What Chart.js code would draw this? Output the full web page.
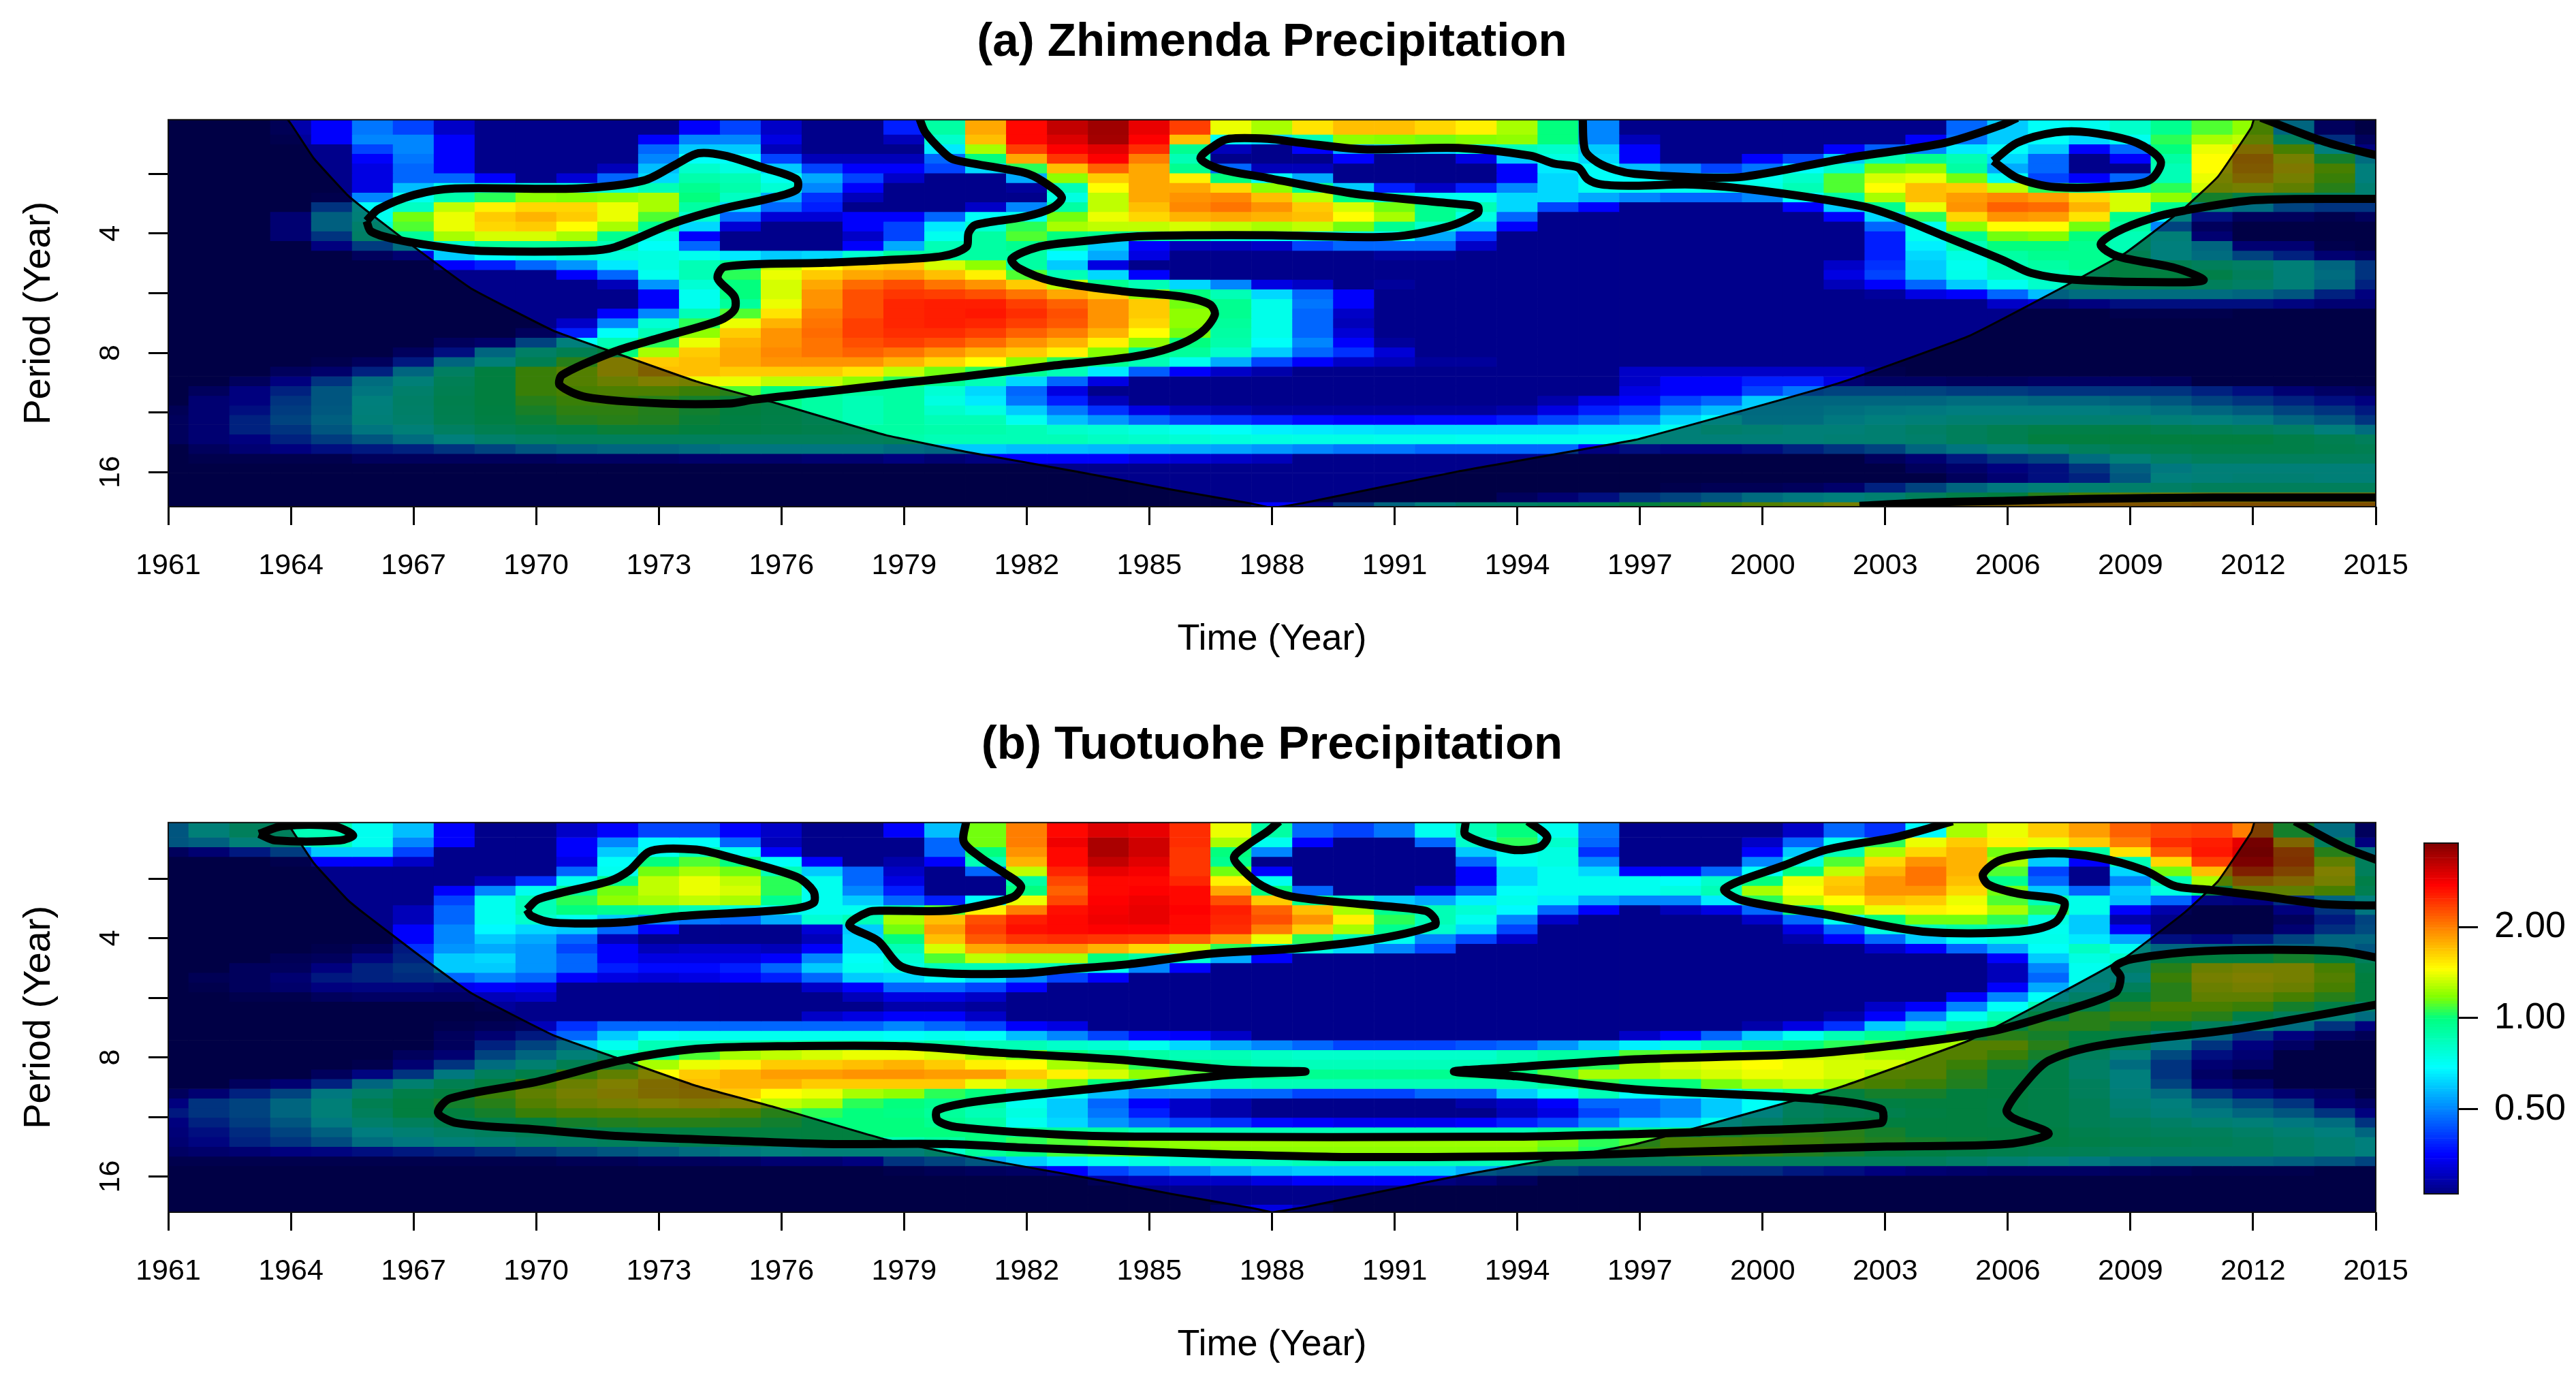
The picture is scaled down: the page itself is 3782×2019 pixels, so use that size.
<!DOCTYPE html>
<html>
<head>
<meta charset="utf-8">
<title>Wavelet power</title>
<script src="https://cdn.jsdelivr.net/npm/chart.js@4"></script>
<style>
body { margin: 0; background: #fff; overflow: hidden; }
canvas { position: absolute; }
</style>
</head>
<body>
<canvas id="panel-a" width="3735" height="983" style="left:0;top:0"></canvas>
<canvas id="panel-b" width="3735" height="987" style="left:0;top:1032px"></canvas>
<canvas id="color-key" width="282" height="600" style="left:3500px;top:1200px"></canvas>
<script>
const years = [1961,1962,1963,1964,1965,1966,1967,1968,1969,1970,1971,1972,1973,1974,1975,1976,1977,1978,1979,1980,1981,1982,1983,1984,1985,1986,1987,1988,1989,1990,1991,1992,1993,1994,1995,1996,1997,1998,1999,2000,2001,2002,2003,2004,2005,2006,2007,2008,2009,2010,2011,2012,2013,2014,2015];
const yearTicks = [1961,1964,1967,1970,1973,1976,1979,1982,1985,1988,1991,1994,1997,2000,2003,2006,2009,2012,2015];
// period axis is log2(period)
const periodTicks = [1.5, 2, 2.5, 3, 3.5, 4];
const periodLabels = ["", "4", "", "8", "", "16"];
const keyTicks = [0.5, 1, 2];

// wavelet power x100, one row per period (short to long), columns 1961..2015
const powerZhimenda = [
[27,27,27,29,35,48,42,31,27,27,27,27,27,35,42,31,27,27, 38,90,180,270,320,350,290,235,140,125,155,170,170,160,150,125,100,50, 27,27,27,27,27,27,27,27,46,60,70,72,80,95,110,120,60,30,27],
[27,27,27,28,35,50,50,35,27,27,27,27,35,50,50,33,27,27, 30,80,170,270,300,345,275,170,70,62,85,120,118,115,118,120,100,50, 30,27,27,27,27,27,27,35,48,60,70,62,72,105,125,130,85,45,30],
[27,27,27,27,27,42,50,35,27,27,27,27,46,60,60,30,27,27, 27,65,125,235,275,295,245,95,30,27,35,55,60,60,75,85,80,60, 35,27,27,27,27,35,45,50,65,70,60,35,46,100,140,160,120,70,35],
[27,27,27,27,27,35,48,35,27,27,27,27,50,70,70,42,30,30, 30,46,100,180,240,275,200,85,27,27,27,35,27,27,33,60,75,62, 35,27,27,35,42,60,85,95,85,62,46,27,35,90,145,180,140,105,62],
[27,27,27,27,27,33,46,35,27,27,27,30,58,80,75,60,42,35, 35,42,62,105,170,215,180,95,46,30,30,27,27,27,27,35,65,70, 58,50,42,48,70,80,115,120,90,55,46,27,27,85,145,175,150,120,70],
[27,27,27,27,27,33,46,46,35,27,32,46,62,88,85,72,55,42, 31,27,27,55,120,165,180,150,100,70,55,27,27,27,27,35,62,70, 70,70,72,72,80,110,135,140,115,72,42,35,46,85,140,165,140,115,70],
[27,27,27,27,27,33,58,72,75,75,75,78,85,95,88,78,50,35, 27,27,27,28,85,145,180,180,160,120,95,60,38,31,38,50,62,72, 72,72,74,74,85,110,145,170,165,130,105,90,90,105,135,140,130,110,75],
[27,27,27,27,28,50,72,88,105,120,118,120,125,100,82,55,40,30, 27,27,27,27,75,130,180,190,195,170,130,100,80,72,72,62,62,55, 50,46,46,50,70,90,125,170,185,195,185,160,135,120,105,95,90,85,75],
[27,27,27,27,46,70,82,130,150,160,160,140,125,90,62,46,38,27, 27,27,31,50,90,130,170,195,205,190,165,135,115,95,85,62,42,35, 27,27,27,27,35,60,95,140,190,215,210,175,135,95,72,62,50,46,46],
[27,27,27,33,58,72,115,140,165,175,165,140,110,80,46,32,32,35, 35,46,70,72,115,140,160,175,180,175,170,145,125,95,75,46,27,27, 27,27,27,27,27,35,62,105,160,190,185,155,95,70,38,30,30,28,30],
[27,27,27,33,58,78,110,140,160,165,145,125,95,62,32,27,27,35, 42,65,78,105,125,130,130,135,130,125,130,115,95,80,60,35,27,27, 27,27,27,27,27,27,46,72,120,145,145,115,90,50,30,27,27,27,27],
[27,27,27,33,46,80,92,125,135,135,125,95,75,35,27,27,27,31, 42,72,90,110,100,95,90,88,75,72,75,75,72,55,40,27,27,27, 27,27,27,27,27,27,38,72,95,115,118,100,85,72,33,27,27,27,27],
[27,27,27,27,35,48,62,80,92,92,92,85,70,46,27,27,27,35, 55,85,90,95,85,60,35,30,30,31,42,46,46,46,31,27,27,27, 27,27,27,27,27,27,38,66,85,100,100,95,85,70,60,33,33,28,27],
[27,27,27,27,27,30,33,60,70,74,78,76,75,72,65,60,62,78, 92,90,90,90,68,55,33,27,27,27,27,27,28,28,27,27,27,27, 27,27,27,27,27,27,38,62,75,90,95,95,90,70,62,50,42,33,31],
[27,27,27,27,27,27,27,35,38,46,52,65,75,85,95,130,145,160, 165,135,120,90,60,33,27,27,27,27,27,27,27,27,27,27,27,27, 27,27,27,27,27,31,40,60,72,85,90,95,100,90,85,80,72,60,46],
[27,27,27,27,27,27,27,27,27,27,35,46,72,85,105,140,165,180, 185,170,150,110,85,62,35,27,27,27,27,27,27,27,27,27,27,27, 27,27,27,27,27,33,42,60,73,82,85,90,100,100,95,85,72,62,46],
[27,27,27,27,27,27,27,27,27,27,27,30,52,78,100,135,180,210, 225,205,190,165,130,95,85,62,50,33,31,27,28,27,27,27,27,27, 27,27,27,27,27,30,35,46,60,72,80,85,85,85,85,80,72,60,42],
[27,27,27,27,27,27,27,27,27,27,27,27,35,72,100,135,190,225, 240,235,225,205,180,165,120,100,85,62,46,35,27,27,27,27,27,27, 27,27,27,27,27,27,28,33,35,46,58,62,62,62,62,60,55,42,35],
[27,27,27,27,27,27,27,27,27,27,27,27,35,72,92,140,190,225, 250,255,255,235,215,190,165,115,95,73,48,35,27,27,27,27,27,27, 27,27,27,27,27,27,27,27,27,31,33,35,38,38,38,38,36,33,33],
[27,27,27,27,27,27,27,27,27,27,27,35,50,85,110,155,200,225, 250,255,260,245,225,190,165,120,95,73,46,31,27,27,27,27,27,27, 27,27,27,27,27,27,27,27,27,27,27,27,28,28,28,27,27,27,27],
[27,27,27,27,27,27,27,27,27,27,31,50,78,105,140,175,205,235, 250,255,250,235,220,190,160,120,92,73,46,30,27,27,27,27,27,27, 27,27,27,27,27,27,27,27,27,27,27,27,27,27,27,27,27,27,27],
[27,27,27,27,27,27,27,27,27,30,38,70,85,120,165,190,210,235, 245,245,235,215,200,175,145,115,90,73,46,32,27,27,27,27,27,27, 27,27,27,27,27,27,27,27,27,27,27,27,27,27,27,27,27,27,27],
[27,27,27,27,27,27,27,30,32,50,70,85,105,140,175,190,205,225, 235,225,210,190,175,150,120,100,88,70,50,35,28,27,27,27,27,27, 27,27,27,27,27,27,27,27,27,27,27,27,27,27,27,27,27,27,27],
[27,27,27,27,27,27,30,38,60,80,90,100,125,165,180,195,205,215, 205,190,175,165,150,118,95,92,80,60,46,40,32,27,27,27,27,27, 27,27,27,27,27,27,27,27,27,27,27,27,27,27,27,27,27,27,27],
[27,27,27,27,28,30,40,60,72,90,110,150,165,170,180,190,190,190, 175,160,145,120,105,95,85,72,55,42,35,31,30,28,28,27,27,27, 27,27,27,27,27,27,27,27,27,27,27,27,27,27,27,27,27,27,27],
[27,27,27,30,32,42,60,82,100,115,125,150,170,170,165,165,165,155, 130,115,105,95,85,65,45,35,31,29,27,27,27,27,27,27,27,27, 31,31,31,31,31,31,28,27,27,27,27,27,27,27,27,27,27,27,27],
[27,27,30,35,46,62,72,88,100,115,125,135,145,140,140,130,130,120, 105,95,85,62,46,33,27,27,27,27,27,27,27,27,27,27,27,27, 31,35,35,38,38,33,31,31,30,30,31,31,31,30,27,27,27,27,27],
[27,30,35,42,55,65,78,90,100,115,120,122,122,115,110,100,95,90, 90,78,62,46,33,27,27,27,27,27,27,27,27,27,27,27,27,27, 33,35,35,42,48,50,50,50,48,48,46,46,46,46,42,38,33,31,30],
[27,33,35,46,55,70,80,92,100,110,115,115,110,105,102,98,90,85, 90,75,65,48,38,30,27,27,27,27,27,27,27,27,27,27,29,33, 35,42,46,60,60,60,60,60,62,62,60,60,58,55,50,46,42,38,35],
[29,33,38,48,56,71,79,91,99,106,112,112,109,104,100,96,90,85, 90,80,75,60,48,40,33,30,29,28,28,28,28,28,28,29,33,38, 42,52,58,61,61,63,65,66,68,68,68,68,66,63,60,56,50,46,40],
[30,33,42,50,58,72,78,90,97,102,108,110,108,102,98,95,90,85, 90,85,85,72,58,52,46,42,40,38,36,35,35,36,36,38,42,46, 50,62,70,62,62,66,70,72,75,75,75,75,75,72,70,66,60,55,46],
[30,33,42,46,55,65,72,82,90,95,98,102,102,100,98,95,92,90, 90,88,88,85,80,78,75,72,70,66,65,64,63,63,63,63,63,65, 65,72,78,75,72,72,75,80,85,90,95,95,95,90,88,85,80,70,62],
[30,33,35,42,48,55,62,70,78,82,85,85,85,85,85,85,85,85, 88,85,85,85,85,82,80,78,76,75,74,74,73,73,72,72,72,72, 72,72,72,72,72,74,75,78,85,90,100,100,100,100,100,100,95,90,85],
[27,30,33,35,38,40,42,46,50,55,58,60,60,62,65,65,65,65, 62,60,60,58,58,57,56,55,54,52,50,48,48,46,46,46,46,35, 38,36,36,38,42,46,50,60,65,72,78,85,90,92,95,95,95,92,90],
[27,28,28,28,28,30,30,30,30,30,31,31,31,32,32,32,33,33, 35,33,35,35,35,35,33,32,31,30,27,27,27,27,27,27,27,27, 27,27,27,27,27,27,30,33,40,46,50,62,72,80,85,85,85,85,85],
[27,27,27,27,27,27,27,27,27,27,27,27,27,27,27,27,27,27, 27,27,27,27,27,27,27,27,27,27,27,27,27,27,27,27,27,27, 27,27,27,27,27,27,27,30,32,35,38,46,58,66,72,72,72,72,72],
[27,27,27,27,27,27,27,27,27,27,27,27,27,27,27,27,27,27, 27,27,27,27,27,27,27,27,27,27,27,27,27,27,27,27,27,27, 27,27,27,27,27,27,27,27,30,33,38,42,55,70,72,74,74,72,72],
[27,27,27,27,27,27,27,27,27,27,27,27,27,27,27,27,27,27, 27,27,27,27,27,27,27,27,27,27,27,27,27,27,27,27,27,27, 27,28,29,29,30,32,42,50,60,66,72,75,78,80,85,85,85,85,85],
[27,27,27,27,27,27,27,27,27,27,27,27,27,27,27,27,27,27, 27,27,27,27,27,27,27,27,27,27,27,27,27,27,27,30,33,38, 46,50,55,62,66,70,75,85,95,100,110,120,130,140,150,150,150,150,150],
[27,27,27,27,27,27,27,27,27,27,27,27,27,27,27,27,27,27, 27,27,27,27,27,27,27,27,27,35,35,46,60,70,78,80,85,90, 100,105,115,125,130,140,150,160,165,170,175,180,180,180,185,185,185,185,185],
];

const powerTuotuohe = [
[55,72,85,85,85,72,58,35,27,27,31,35,42,42,35,31,27,27, 35,58,115,200,270,300,290,245,140,90,46,42,48,72,85,100,72,48, 27,27,27,27,31,46,40,68,125,140,165,185,215,230,235,200,105,62,30],
[55,58,72,78,85,72,50,35,27,27,35,50,68,70,46,30,27,27, 27,46,115,200,285,340,310,245,125,72,35,27,27,46,80,105,80,46, 27,27,27,31,46,72,105,140,165,150,140,165,200,245,255,290,165,85,35],
[30,33,40,48,60,60,42,27,27,27,35,60,72,85,72,35,27,27, 27,46,100,190,270,340,310,240,100,50,27,27,27,27,60,72,75,40, 27,27,27,35,60,85,125,160,175,115,105,90,155,220,260,300,210,110,62],
[27,27,27,28,35,35,31,27,27,27,33,70,100,110,100,70,35,27, 29,35,85,175,270,320,295,240,95,27,27,27,27,27,46,72,75,50, 27,27,27,50,75,110,160,190,175,125,60,35,85,160,235,280,215,130,85],
[27,27,27,27,27,27,27,27,27,27,46,72,115,125,115,85,60,46, 31,27,46,130,250,290,280,240,115,35,27,27,27,27,35,62,72,62, 35,35,46,70,100,130,175,205,175,110,42,27,62,115,170,235,195,145,85],
[27,27,27,27,27,27,27,27,30,40,72,95,130,140,130,105,72,46, 33,27,27,90,230,270,270,250,150,72,27,27,27,27,35,62,72,72, 72,70,80,100,140,165,190,205,170,95,46,27,50,85,125,180,165,140,95],
[27,27,27,27,27,27,27,35,50,72,92,115,130,140,135,105,72,50, 38,27,27,100,215,270,275,270,180,100,46,27,27,33,46,70,72,72, 72,75,85,125,145,170,190,190,160,115,60,46,60,75,95,130,130,120,90],
[27,27,27,27,27,27,27,42,72,85,105,120,125,130,125,95,72,60, 46,38,70,140,230,275,285,270,225,165,95,80,60,55,66,73,66,55, 50,50,65,105,130,145,170,165,140,110,85,73,58,46,36,35,45,60,70],
[27,27,27,27,27,27,30,46,72,85,100,95,92,85,78,72,72,72, 90,110,150,200,265,280,290,275,255,215,170,125,95,85,78,68,46,35, 27,30,33,46,100,120,140,150,145,125,105,73,35,29,27,27,35,46,65],
[27,27,27,27,27,27,30,46,72,80,72,60,50,48,46,55,78,85, 125,170,225,255,270,285,290,270,250,225,190,150,105,85,72,50,31,27, 27,27,27,31,46,72,100,115,115,105,75,60,29,27,27,27,30,40,50],
[27,27,27,27,27,27,35,50,68,62,60,46,35,27,27,27,32,60, 115,185,235,265,270,275,275,270,245,200,165,125,95,80,62,42,27,27, 27,27,27,27,33,46,75,85,90,85,72,60,35,27,27,27,33,45,52],
[27,27,27,27,27,27,35,50,60,55,46,30,27,27,27,27,30,62, 100,170,220,240,245,240,235,215,185,140,105,85,72,50,42,31,27,27, 27,27,27,27,29,35,46,60,70,75,73,65,55,38,36,40,50,60,60],
[27,27,27,27,28,30,40,52,55,52,42,35,30,31,31,30,35,62, 85,135,180,190,190,175,160,130,105,85,75,62,50,42,27,27,27,27, 27,27,27,27,27,27,31,35,46,55,70,82,72,60,60,60,60,60,55],
[27,27,27,29,30,36,42,60,62,52,46,35,33,33,33,35,50,70, 78,110,130,125,125,100,90,78,55,35,27,27,27,27,27,27,27,27, 27,27,27,27,27,27,27,27,27,35,60,75,80,100,100,100,105,100,85],
[27,27,30,30,35,42,46,60,60,52,46,38,36,36,38,46,60,72, 75,85,85,85,85,72,50,35,27,27,27,27,27,27,27,27,27,27, 27,27,27,27,27,27,27,27,27,30,50,72,80,110,135,140,140,120,95],
[27,29,30,33,40,42,44,46,50,46,35,33,32,33,35,38,46,60, 62,70,62,50,42,35,27,27,27,27,27,27,27,27,27,27,27,27, 27,27,27,27,27,27,27,27,27,30,46,72,72,115,140,145,140,125,100],
[27,28,30,32,35,36,36,34,35,34,27,27,27,27,27,27,31,35, 46,46,42,35,27,27,27,27,27,27,27,27,27,27,27,27,27,27, 27,27,27,27,27,27,27,27,27,35,55,70,85,110,135,140,135,120,100],
[27,27,28,28,30,31,31,31,30,31,27,27,27,27,27,27,27,30, 33,33,31,27,27,27,27,27,27,27,27,27,27,27,27,27,27,27, 27,27,27,27,27,27,27,27,35,50,70,80,100,110,130,130,120,110,100],
[27,27,27,27,27,27,27,27,28,27,27,27,27,27,27,27,27,27, 29,29,28,27,27,27,27,27,27,27,27,27,27,27,27,27,27,27, 27,27,27,27,27,27,31,35,50,70,85,95,110,120,120,115,105,95,80],
[27,27,27,27,27,27,27,27,27,27,27,27,27,27,27,27,31,33, 35,35,31,27,27,27,27,27,27,27,27,27,27,27,27,27,27,27, 27,27,27,27,27,29,35,50,72,85,100,110,115,115,110,95,85,72,62],
[27,27,27,27,27,27,27,28,29,30,40,46,46,46,46,46,46,46, 50,46,42,35,33,27,27,27,27,27,27,27,27,27,27,27,27,27, 27,27,27,29,33,40,60,80,90,100,110,110,105,100,85,72,62,46,35],
[27,27,27,27,27,27,27,30,33,40,46,60,70,72,72,72,72,72, 70,72,70,58,50,42,36,35,31,27,27,27,27,27,27,27,27,27, 31,35,46,60,72,85,95,100,105,110,105,100,95,72,60,46,35,31,29],
[27,27,27,27,27,27,27,30,42,50,60,72,85,85,88,90,90,90, 85,90,85,85,80,78,72,62,55,50,46,42,42,42,44,46,52,60, 66,75,85,95,100,105,110,125,125,125,110,100,88,66,46,35,31,27,27],
[27,27,27,27,27,27,30,33,50,60,72,85,95,110,125,130,135,140, 140,135,125,115,100,92,90,85,85,82,80,80,80,80,80,85,90,90, 110,115,120,125,130,130,125,125,125,115,105,85,72,52,38,33,27,27,27],
[27,27,27,27,27,28,33,46,62,75,90,105,125,140,150,165,165,170, 175,165,150,145,125,120,105,95,90,85,84,84,84,84,84,88,92,105, 125,135,140,145,140,135,135,125,115,105,95,80,62,46,33,31,27,27,27],
[27,27,27,27,30,36,46,66,85,95,115,130,145,165,175,185,185,190, 190,185,185,165,150,135,120,110,100,95,95,95,95,95,95,100,110,125, 125,130,135,140,140,135,125,125,110,100,95,80,70,46,31,27,27,27,27],
[27,27,30,33,42,60,75,90,100,120,135,145,160,170,175,175,165,165, 165,165,140,130,115,100,85,80,82,85,85,85,85,85,85,85,90,105, 95,100,115,125,130,125,120,115,108,100,95,85,70,50,33,31,27,27,27],
[30,33,42,50,66,80,95,100,115,130,140,150,160,165,165,145,140,125, 120,105,100,85,72,58,50,50,46,46,42,42,42,46,46,60,72,85, 70,75,72,85,95,100,105,105,100,100,95,85,72,62,46,38,33,31,27],
[35,46,50,60,72,90,100,105,110,125,135,140,145,150,145,130,125,105, 100,95,90,72,60,46,35,31,29,27,27,27,27,27,29,31,35,46, 46,50,60,70,85,95,98,100,100,98,95,88,75,70,60,52,46,33,31],
[40,46,50,60,72,85,100,100,105,115,120,122,125,125,120,110,105,100, 98,92,85,75,60,48,38,31,29,27,27,27,27,27,27,30,33,42, 46,50,60,70,85,90,92,98,100,98,95,88,78,72,66,60,55,46,35],
[35,42,48,55,66,78,85,92,95,100,105,108,110,110,108,104,100,100, 100,95,90,72,62,52,46,42,40,36,35,34,34,34,35,38,42,50, 60,62,72,80,90,98,100,100,100,98,95,88,85,80,75,72,66,62,46],
[34,38,44,50,58,68,74,80,84,88,90,94,96,98,100,100,100,100, 100,100,100,95,92,90,85,85,85,85,85,85,85,85,85,85,90,90, 95,100,105,110,112,110,105,100,100,100,98,92,88,85,85,80,75,70,60],
[33,36,42,46,52,62,66,72,75,80,82,85,85,90,92,95,100,100, 85,90,100,105,110,115,118,120,122,122,122,122,122,122,122,122,115,105, 110,120,120,118,115,112,108,105,102,100,98,95,92,90,88,85,80,75,70],
[31,32,33,35,36,38,40,42,45,48,52,55,58,62,66,70,72,72, 72,80,92,100,108,112,116,118,120,120,120,120,120,120,120,120,112,102, 115,118,118,112,108,104,100,98,95,92,90,88,85,85,85,85,80,75,70],
[28,28,28,28,28,28,28,28,28,28,29,29,30,30,31,33,33,35, 46,50,55,60,66,72,75,78,80,82,85,85,85,85,85,85,85,85, 85,85,85,85,85,85,85,85,80,75,72,66,62,60,60,60,58,55,50],
[27,27,27,27,27,27,27,27,27,27,27,27,27,27,27,27,27,27, 28,29,30,31,35,42,46,50,55,58,60,60,60,60,55,52,50,46, 46,46,44,44,40,38,35,33,32,31,31,31,30,29,28,28,28,27,27],
[27,27,27,27,27,27,27,27,27,27,27,27,27,27,27,27,27,27, 27,27,27,27,27,29,30,31,31,33,35,35,35,35,33,30,27,27, 27,27,27,27,27,27,27,27,27,27,27,27,27,27,27,27,27,27,27],
[27,27,27,27,27,27,27,27,27,27,27,27,27,27,27,27,27,27, 27,27,27,27,27,27,27,27,27,27,27,27,27,27,27,27,27,27, 27,27,27,27,27,27,27,27,27,27,27,27,27,27,27,27,27,27,27],
[27,27,27,27,27,27,27,27,27,27,27,27,27,27,27,27,27,27, 27,27,27,27,27,27,27,27,27,27,27,27,27,27,27,27,27,27, 27,27,27,27,27,27,27,27,27,27,27,27,27,27,27,27,27,27,27],
[27,27,27,27,27,27,27,27,27,27,27,27,27,27,27,27,27,27, 27,27,27,27,27,27,27,27,31,33,30,27,27,27,27,27,27,27, 27,27,27,27,27,27,27,27,27,27,27,27,27,27,27,27,27,27,27],
];

// significance contours as [year, log2(period)]
const zhimendaContours = [
[[1965.85,1.895],[1966.14,1.797],[1967.02,1.676],[1968.01,1.622],[1970.99,1.622],[1972.63,1.556],[1973.45,1.414],[1973.97,1.327],[1974.62,1.348],[1975.55,1.447],[1976.37,1.545],[1976.37,1.633],[1975.67,1.709],[1974.5,1.797],[1973.33,1.917],[1971.93,2.114],[1971.23,2.146],[1968.65,2.146],[1967.72,2.114],[1966.55,2.048],[1965.96,1.983],[1965.85,1.895]],
[[1979.37,1.03],[1979.52,1.152],[1979.99,1.327],[1980.23,1.381],[1981.45,1.458],[1982.04,1.5],[1982.51,1.589],[1982.86,1.698],[1982.62,1.786],[1981.92,1.862],[1980.75,1.928],[1980.58,1.993],[1980.52,2.114],[1979.93,2.19],[1978.53,2.223],[1977.07,2.245],[1974.62,2.278],[1974.44,2.376],[1974.85,2.529],[1974.85,2.638],[1974.5,2.726],[1972.98,2.879],[1971.93,2.988],[1970.64,3.185],[1970.58,3.272],[1971.23,3.371],[1973.1,3.425],[1974.73,3.425],[1975.32,3.393],[1977.07,3.327],[1979.04,3.25],[1980.52,3.196],[1982.62,3.108],[1984.61,3.032],[1985.55,2.955],[1986.25,2.835],[1986.6,2.682],[1986.48,2.595],[1985.78,2.529],[1984.38,2.485],[1982.62,2.398],[1981.8,2.289],[1981.63,2.212],[1982.27,2.114],[1983.21,2.07],[1984.61,2.026],[1986.02,2.015],[1988,2.015],[1990.93,2.026],[1992.33,1.939],[1993.03,1.829],[1993.03,1.775],[1992.56,1.753],[1990.23,1.676],[1989.06,1.611],[1987.89,1.534],[1986.72,1.458],[1986.25,1.37],[1986.6,1.261],[1986.95,1.206],[1987.89,1.206],[1988.7,1.239],[1990.23,1.294],[1992.56,1.283],[1994.32,1.348],[1994.9,1.414],[1995.49,1.447],[1995.72,1.545],[1996.07,1.589],[1996.87,1.6],[1998.27,1.589],[2000.03,1.644],[2002.48,1.775],[2003.54,1.895],[2004.47,2.026],[2005.88,2.223],[2006.58,2.332],[2007.63,2.387],[2010.32,2.409],[2010.79,2.387],[2010.09,2.289],[2008.68,2.19],[2008.27,2.092],[2008.68,1.983],[2009.5,1.873],[2010.32,1.808],[2012.07,1.72],[2015.2,1.709]],
[[1995.6,1.03],[1995.66,1.305],[1995.96,1.403],[1996.42,1.469],[1996.87,1.5],[1998.27,1.528],[1999.56,1.523],[2002.02,1.37],[2004.47,1.239],[2005.88,1.086],[2006.23,1.03]],
[[2005.64,1.392],[2006.23,1.239],[2007.16,1.152],[2007.98,1.152],[2009.15,1.239],[2009.74,1.392],[2009.5,1.545],[2008.8,1.6],[2007.16,1.611],[2006.23,1.534],[2005.64,1.392]],
[[2012.19,1.03],[2013.83,1.239],[2015.2,1.359]],
[[2002.37,4.283],[2004,4.256],[2006,4.24],[2008,4.224],[2011.02,4.213],[2015.2,4.213]],
];

const tuotuoheContours = [
[[1963.22,1.125],[1963.8,1.06],[1965.03,1.06],[1965.52,1.136],[1965.2,1.18],[1963.62,1.18],[1963.22,1.125]],
[[1969.77,1.76],[1970.06,1.672],[1971.81,1.519],[1972.28,1.432],[1972.81,1.268],[1973.92,1.257],[1974.74,1.322],[1976.37,1.486],[1976.78,1.606],[1976.78,1.705],[1976.14,1.76],[1973.57,1.814],[1972.05,1.869],[1970.41,1.869],[1969.88,1.814],[1969.77,1.76]],
[[1980.52,1.02],[1980.46,1.191],[1980.87,1.322],[1981.45,1.453],[1981.86,1.563],[1981.69,1.65],[1980.99,1.716],[1980.05,1.77],[1978.53,1.77],[1978.13,1.78],[1977.66,1.89],[1978.36,2.022],[1978.94,2.24],[1980.05,2.295],[1981.92,2.295],[1982.97,2.262],[1984.49,2.219],[1986.48,2.131],[1988.59,2.087],[1990.69,2],[1991.98,1.891],[1991.98,1.836],[1991.75,1.77],[1990.23,1.716],[1988.47,1.65],[1987.77,1.563],[1987.3,1.432],[1987.07,1.322],[1987.42,1.213],[1987.89,1.104],[1988.18,1.02]],
[[1992.74,1.02],[1992.74,1.136],[1993.85,1.257],[1994.55,1.235],[1994.73,1.147],[1994.26,1.02]],
[[2004.65,1.02],[2003.33,1.147],[2001.57,1.257],[2000.54,1.388],[1999.07,1.585],[1999.51,1.683],[2001.57,1.803],[2003.92,1.945],[2006.27,1.945],[2007.15,1.869],[2007.37,1.694],[2006.27,1.628],[2005.53,1.552],[2005.39,1.464],[2005.83,1.344],[2007,1.289],[2008.18,1.322],[2009.35,1.432],[2010.09,1.563],[2010.97,1.596],[2012.29,1.65],[2013.76,1.716],[2015.2,1.727]],
[[2013.02,1.02],[2014.2,1.235],[2015.2,1.366]],
[[2015.2,2.547],[2011.55,2.765],[2008.32,2.896],[2007,3.028],[2006.41,3.224],[2005.97,3.443],[2006.12,3.508],[2007,3.64],[2005.97,3.727],[2003.04,3.749],[1998.04,3.793],[1994.9,3.826],[1990.05,3.837],[1986.95,3.815],[1984.96,3.793],[1982.04,3.76],[1980.05,3.727],[1977.07,3.727],[1974.96,3.701],[1972.05,3.662],[1970.06,3.607],[1968.07,3.552],[1967.6,3.465],[1967.9,3.345],[1970.06,3.202],[1972.05,3.028],[1973.92,2.929],[1975.9,2.907],[1979.04,2.907],[1981.34,2.962],[1984.14,3.017],[1986.95,3.104],[1988.82,3.119],[1986.95,3.148],[1984.14,3.246],[1980.87,3.366],[1979.82,3.443],[1979.82,3.53],[1980.28,3.585],[1982.97,3.651],[1984.96,3.666],[1993.97,3.666],[1996.87,3.644],[1998.34,3.629],[2002.89,3.552],[2002.89,3.432],[2001.13,3.345],[1996.87,3.268],[1993.97,3.159],[1992.45,3.119],[1993.97,3.082],[1996.87,3.017],[2000.98,2.973],[2003.33,2.896],[2005.68,2.776],[2007.15,2.634],[2008.62,2.459],[2008.76,2.328],[2008.62,2.24],[2009.06,2.175],[2010.82,2.109],[2014.05,2.109],[2015.2,2.175]],
];

// cone of influence
const coiEdge = [[1961,1],[1963.8,1],[1964,1.08],[1964.56,1.37],[1965.38,1.676],[1965.85,1.808],[1967.02,2.114],[1968.42,2.463],[1970.41,2.813],[1971.93,3],[1973.92,3.24],[1975.9,3.425],[1978.55,3.69],[1980.52,3.83],[1983.2,3.994],[1985.55,4.147],[1987.55,4.267],[1988,4.3],[1988.82,4.256],[1992.56,3.994],[1996.87,3.731],[1999.21,3.513],[2001.9,3.25],[2005.06,2.857],[2007.4,2.44],[2008.9,2.157],[2010.32,1.786],[2011.14,1.523],[2011.96,1.108],[2012.07,1],[2015,1]];

const FONT = "'Liberation Sans', Arial, sans-serif";
const keyMin = 0.263, keyMax = 3.78;
const paletteStops = [[0,[0,0,128]],[0.11,[0,0,255]],[0.36,[0,255,255]],[0.5,[0,255,128]],[0.56,[128,255,0]],[0.64,[255,255,0]],[0.88,[255,0,0]],[1,[128,0,0]]];

function colorAt(t) {
	t = Math.min(1, Math.max(0, t));
	for (let i = 1; i < paletteStops.length; i++) {
		const [t1, c1] = paletteStops[i];
		const [t0, c0] = paletteStops[i - 1];
		if (t <= t1) {
			const f = (t - t0) / (t1 - t0);
			const c = c0.map((v, j) => Math.round(v + (c1[j] - v) * f));
			return "rgb(" + c.join(",") + ")";
		}
	}
	return "rgb(128,0,0)";
}

function powerColor(v) {
	return colorAt(Math.log(v / 100 / keyMin) / Math.log(keyMax / keyMin));
}

const plotBox = {
	id: "plotBox",
	afterDraw(chart) {
		const a = chart.chartArea;
		const ctx = chart.ctx;
		ctx.save();
		ctx.strokeStyle = "#111";
		ctx.lineWidth = 2;
		ctx.strokeRect(a.left, a.top, a.right - a.left, a.bottom - a.top);
		ctx.restore();
	},
};

function drawPanel(id, titleText, power, contours, yMin, yMax, firstEdge) {
	const rowStep = 0.0811;
	const rows = power.map((row, k) => ({
		type: "bar",
		order: 2,
		clip: 0,
		backgroundColor: row.map(powerColor),
		data: years.map((x) => ({
			x: x,
			y: k === 0 ? [yMin, firstEdge] : [firstEdge + (k - 1) * rowStep, firstEdge + k * rowStep],
		})),
	}));
	const coi = {
		type: "line",
		order: 1,
		clip: 0,
		data: coiEdge.map(([x, y]) => ({ x, y })),
		borderColor: "#000",
		borderWidth: 3,
		pointRadius: 0,
		tension: 0.1,
		fill: { value: yMax },
		backgroundColor: "rgba(0,0,0,0.5)",
	};
	const lines = contours.map((pts) => ({
		type: "line",
		order: 0,
		clip: 0,
		data: pts.map(([x, y]) => ({ x, y })),
		borderColor: "#000",
		borderWidth: 12,
		borderJoinStyle: "round",
		pointRadius: 0,
		tension: 0.3,
		fill: false,
	}));

	new Chart(document.getElementById(id), {
		type: "bar",
		data: { datasets: [...lines, coi, ...rows] },
		plugins: [plotBox],
		options: {
			responsive: false,
			animation: false,
			devicePixelRatio: 1,
			layout: { padding: { right: 247 } },
			datasets: { bar: { grouped: false, barPercentage: 1, categoryPercentage: 1, borderWidth: 0 } },
			plugins: {
				legend: { display: false },
				tooltip: { enabled: false },
				title: {
					display: true,
					fullSize: false,
					text: titleText,
					color: "#000",
					font: { family: FONT, size: 69, weight: "bold" },
					padding: { top: 22, bottom: 71 },
				},
			},
			scales: {
				x: {
					type: "linear",
					min: 1961,
					max: 2015,
					offset: false,
					grid: { offset: false, drawOnChartArea: false, tickLength: 27, tickWidth: 3, tickColor: "#000" },
					border: { display: false },
					afterBuildTicks: (s) => { s.ticks = yearTicks.map((v) => ({ value: v })); },
					afterFit: (s) => { s.height = 239; s.paddingLeft = 0; s.paddingRight = 0; },
					ticks: {
						color: "#000",
						font: { family: FONT, size: 43 },
						padding: 34,
						autoSkip: false,
						maxRotation: 0,
						callback: (v) => String(v),
					},
					title: {
						display: true,
						text: "Time (Year)",
						color: "#000",
						font: { family: FONT, size: 54 },
						padding: { top: 0, bottom: 11 },
					},
				},
				y: {
					type: "linear",
					reverse: true,
					min: yMin,
					max: yMax,
					grid: { drawOnChartArea: false, tickLength: 29, tickWidth: 3, tickColor: "#000" },
					border: { display: false },
					afterBuildTicks: (s) => { s.ticks = periodTicks.map((v) => ({ value: v })); },
					afterFit: (s) => { s.width = 247; s.paddingTop = 0; s.paddingBottom = 0; },
					ticks: {
						color: "#000",
						font: { family: FONT, size: 43 },
						padding: 31,
						autoSkip: false,
						minRotation: 90,
						maxRotation: 90,
						crossAlign: "center",
						callback: (v, i) => periodLabels[i],
					},
					title: {
						display: true,
						text: "Period (Year)",
						color: "#000",
						font: { family: FONT, size: 56 },
						padding: { top: 24, bottom: 0 },
					},
				},
			},
		},
	});
}

drawPanel("panel-a", "(a) Zhimenda Precipitation", powerZhimenda, zhimendaContours, 1.046, 4.29, 1.169);
drawPanel("panel-b", "(b) Tuotuohe Precipitation", powerTuotuohe, tuotuoheContours, 1.03, 4.3, 1.154);

// colour key
const keySteps = [];
for (let i = 0; i < 120; i++) keySteps.push(i / 120);
new Chart(document.getElementById("color-key"), {
	type: "bar",
	data: {
		labels: [""],
		datasets: keySteps.map((t) => ({
			backgroundColor: colorAt(t + 1 / 240),
			data: [[keyMin * Math.pow(keyMax / keyMin, t), keyMin * Math.pow(keyMax / keyMin, t + 1 / 120)]],
		})),
	},
	plugins: [plotBox],
	options: {
		responsive: false,
		animation: false,
		devicePixelRatio: 1,
		layout: { padding: { left: 59, top: 38, bottom: 47 } },
		datasets: { bar: { grouped: false, barPercentage: 1, categoryPercentage: 1, borderWidth: 0 } },
		plugins: { legend: { display: false }, tooltip: { enabled: false } },
		scales: {
			x: { display: false },
			y: {
				type: "logarithmic",
				position: "right",
				min: keyMin,
				max: keyMax,
				grid: { drawOnChartArea: false, tickLength: 29, tickWidth: 3, tickColor: "#000" },
				border: { display: false },
				afterBuildTicks: (s) => { s.ticks = keyTicks.map((v) => ({ value: v })); },
				afterFit: (s) => { s.width = 173; s.paddingTop = 0; s.paddingBottom = 0; },
				ticks: {
					color: "#000",
					font: { family: FONT, size: 54 },
					padding: 24,
					autoSkip: false,
					callback: (v) => Number(v).toFixed(2),
				},
			},
		},
	},
});
</script>
</body>
</html>
